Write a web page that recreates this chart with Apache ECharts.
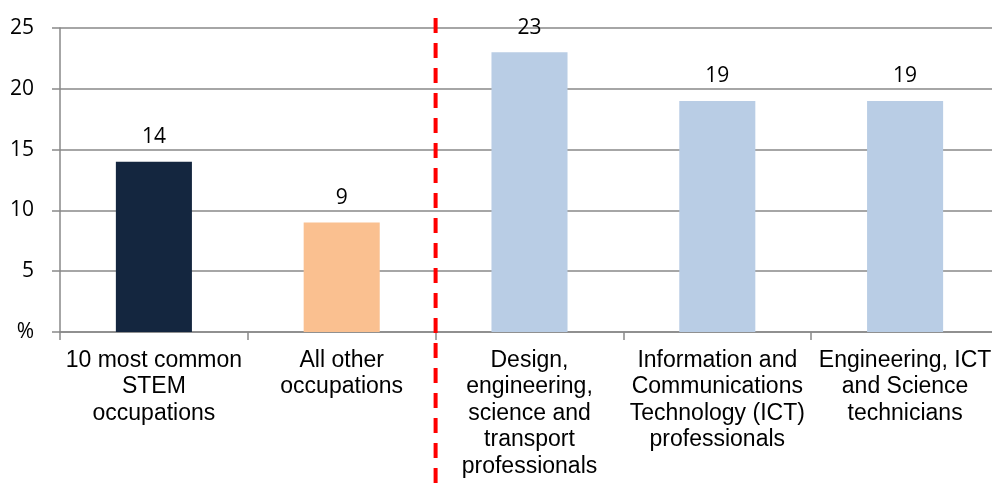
<!DOCTYPE html>
<html>
<head>
<meta charset="utf-8">
<script src="https://cdn.jsdelivr.net/npm/echarts@6/dist/echarts.min.js"></script>
<style>
  html, body { margin: 0; padding: 0; background: #fff; overflow: hidden; }
  /* plot runs a few px past the right edge of the window, as in the original */
  #chart { width: 999px; height: 484px; }
</style>
</head>
<body>
<div id="chart"></div>
<script>
const categories = [
  '10 most common\nSTEM\noccupations',
  'All other\noccupations',
  'Design,\nengineering,\nscience and\ntransport\nprofessionals',
  'Information and\nCommunications\nTechnology (ICT)\nprofessionals',
  'Engineering, ICT\nand Science\ntechnicians'
]
const values = [14, 9, 23, 19, 19]
const barColors = ['#14263f', '#fac090', '#b9cde5', '#b9cde5', '#b9cde5']
const yTicks = { min: 0, max: 25, interval: 5 }
// dashed divider sits between these two categories
const dividerBetween = [1, 2]

const GRID_GRAY = '#898989'

const chart = echarts.init(document.getElementById('chart'))

chart.setOption({
  animation: false,
  grid: { left: 60, right: 0, top: 28, bottom: 152, containLabel: false },
  xAxis: {
    type: 'category',
    data: categories,
    axisLine: { lineStyle: { color: GRID_GRAY, width: 1.5 } },
    axisTick: { show: true, length: 8, lineStyle: { color: GRID_GRAY, width: 1.5 } },
    axisLabel: {
      interval: 0,
      margin: 15,
      fontFamily: 'Liberation Sans, Arial',
      fontSize: 23,
      lineHeight: 26.5,
      color: '#000'
    }
  },
  yAxis: {
    type: 'value',
    min: yTicks.min,
    max: yTicks.max,
    interval: yTicks.interval,
    axisLine: { show: true, lineStyle: { color: GRID_GRAY, width: 1.5 } },
    axisTick: { show: true, length: 8, lineStyle: { color: GRID_GRAY, width: 1.5 } },
    splitLine: { lineStyle: { color: GRID_GRAY, width: 1.5 } },
    axisLabel: {
      margin: 26,
      fontFamily: 'Open Sans, Liberation Sans',
      fontSize: 21,
      color: '#000',
      formatter: (v) => (v === 0 ? '%' : v)
    }
  },
  series: [
    {
      type: 'bar',
      data: values.map((v, i) => ({ value: v, itemStyle: { color: barColors[i] } })),
      barWidth: '40.5%',
      label: {
        show: true,
        position: 'top',
        distance: 14,
        fontFamily: 'Open Sans, Liberation Sans',
        fontSize: 21,
        color: '#000'
      }
    }
  ]
})

// red dashed divider, placed from the category scale
const pA = chart.convertToPixel({ gridIndex: 0 }, [dividerBetween[0], 0])
const pB = chart.convertToPixel({ gridIndex: 0 }, [dividerBetween[1], 0])
const divX = (pA[0] + pB[0]) / 2
chart.setOption({
  graphic: [
    {
      type: 'line',
      z: 100,
      shape: { x1: divX, y1: 18, x2: divX, y2: 484 },
      style: { stroke: '#ff0000', lineWidth: 4, lineDash: [15, 10] }
    }
  ]
})
</script>
</body>
</html>
